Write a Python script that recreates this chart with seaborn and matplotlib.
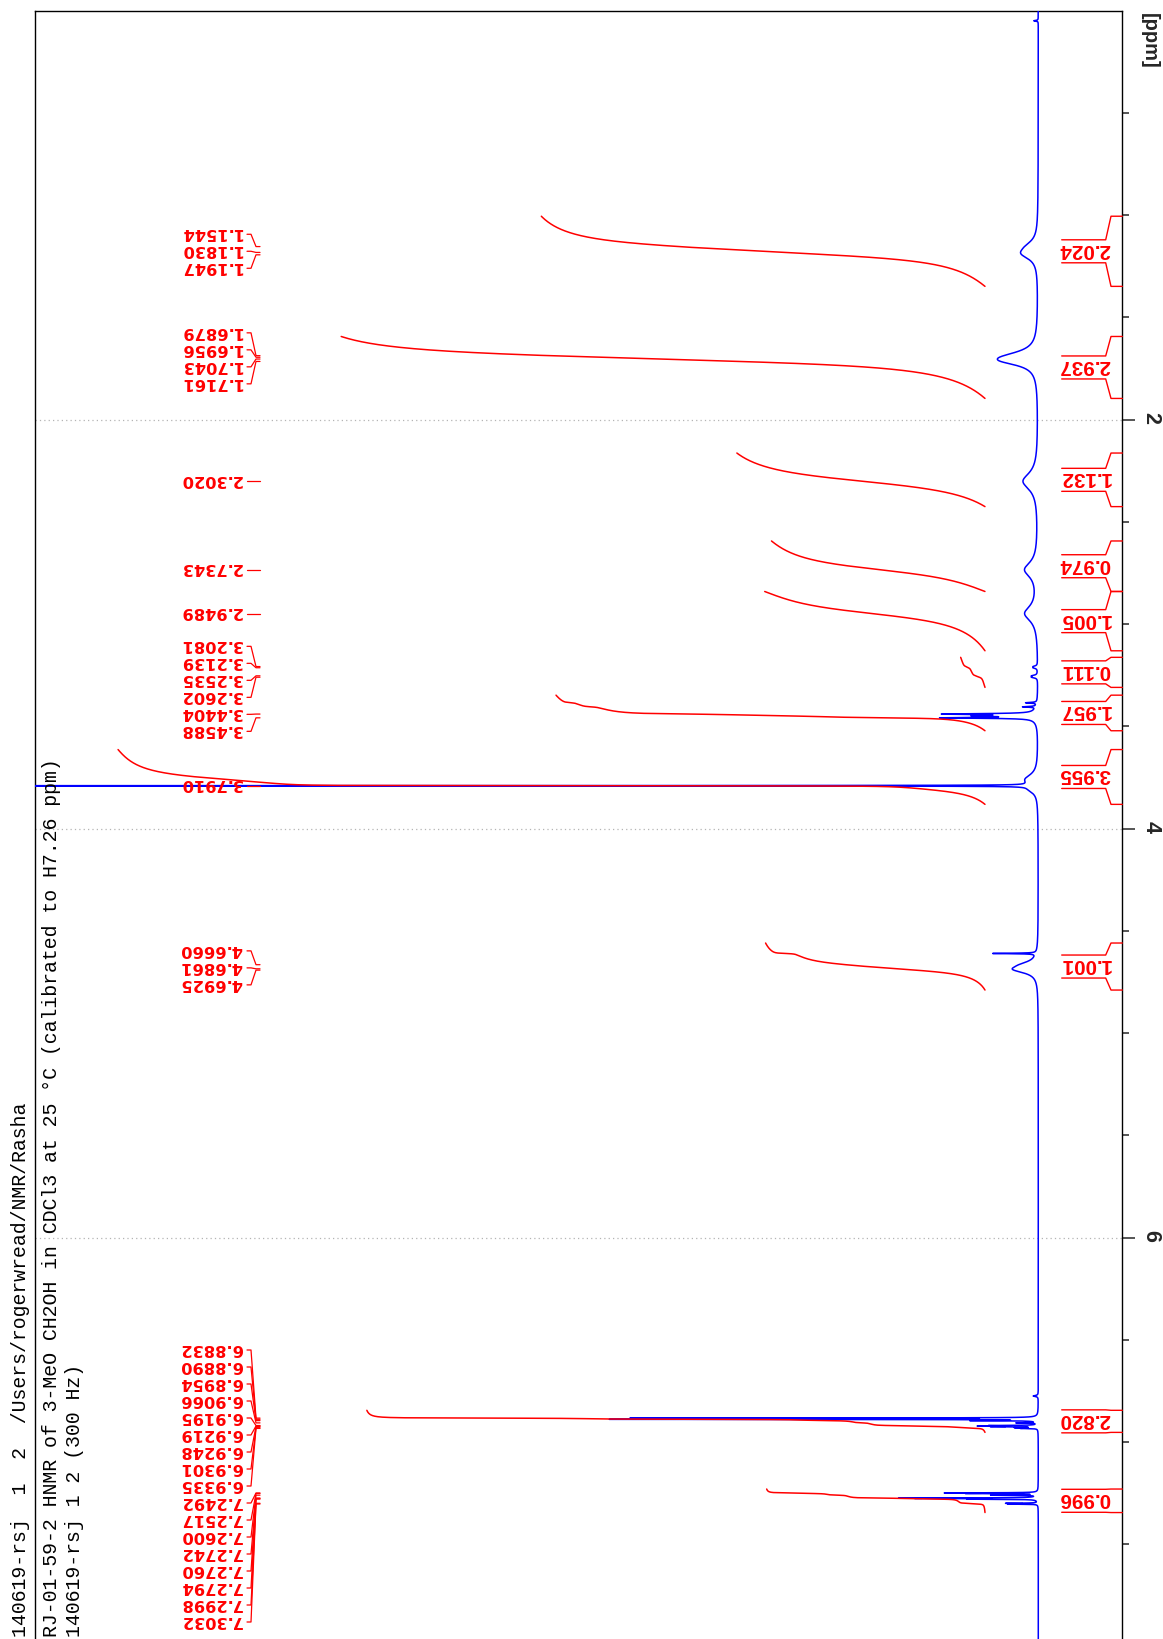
import numpy as np
import pandas as pd
import matplotlib
matplotlib.use("Agg")
import matplotlib.pyplot as plt
from matplotlib.ticker import FixedLocator
import seaborn as sns

# ---------------------------------------------------------------- data ----
# picked peaks: chemical shift (ppm), displayed height, half width (ppm)
peak_ppm = [1.1544, 1.1830, 1.1947,
            1.6879, 1.6956, 1.7043, 1.7161,
            2.3020, 2.7343, 2.9489,
            3.2081, 3.2139, 3.2535, 3.2602, 3.4404, 3.4588,
            3.7910,
            4.6660, 4.6861, 4.6925,
            6.8832, 6.8890, 6.8954, 6.9066, 6.9195, 6.9219, 6.9248, 6.9301, 6.9335,
            7.2492, 7.2517, 7.2600, 7.2742, 7.2760, 7.2794, 7.2998, 7.3032]
peak_height = [0.75, 0.70, 0.70,
               1.00, 1.00, 1.10, 1.50,
               1.50, 1.30, 1.30,
               0.35, 0.35, 0.50, 0.50, 8.50, 8.80,
               210.0,
               1.00, 1.20, 1.00,
               40.0, 42.0, 6.0, 2.0, 4.0, 5.0, 4.0, 2.0, 1.5,
               8.5, 6.0, 4.5, 11.5, 9.0, 6.0, 3.0, 2.8]
peak_hwhm = [0.035, 0.030, 0.030,
             0.035, 0.030, 0.030, 0.025,
             0.050, 0.045, 0.045,
             0.004, 0.004, 0.004, 0.004, 0.0025, 0.0025,
             0.0005,
             0.020, 0.020, 0.020,
             0.0008, 0.0008, 0.001, 0.001, 0.001, 0.001, 0.001, 0.001, 0.001,
             0.001, 0.001, 0.001, 0.001, 0.001, 0.001, 0.001, 0.001]

# lines present in the spectrum but not picked
extra_ppm = [0.05, 3.385, 3.405, 3.449, 3.450, 3.760, 3.810, 4.611, 6.775]
extra_height = [0.45, 1.1, 1.3, 5.0, 0.5, 1.2, 0.6, 4.3, 0.5]
extra_hwhm = [0.002, 0.002, 0.002, 0.003, 0.030, 0.030, 0.020, 0.0015, 0.003]

# integral regions (ppm) and normalised integral values
int_lo = [1.006, 1.594, 2.164, 2.594, 2.841, 3.163, 3.348, 3.614, 4.560, 6.845, 7.230]
int_hi = [1.349, 1.897, 2.426, 2.841, 3.131, 3.310, 3.522, 3.882, 4.790, 6.953, 7.345]
int_val = [2.024, 2.937, 1.132, 0.974, 1.005, 0.111, 1.957, 3.955, 1.001, 2.820, 0.996]

title_lines = ["140619-rsj  1  2  /Users/rogerwread/NMR/Rasha",
               "RJ-01-59-2 HNMR of 3-MeO CH2OH in CDCl3 at 25 \u00b0C (calibrated to H7.26 ppm)",
               "140619-rsj 1 2 (300 Hz)"]

major_ticks = [2, 4, 6]
minor_ticks = [0.5, 1.0, 1.5, 2.5, 3.0, 3.5, 4.5, 5.0, 5.5, 6.5, 7.0, 7.5]

# -------------------------------------------------------------- layout ----
sns.set_style("white")
plt.rcParams["font.family"] = ["DejaVu Sans"]

W, H = 1163, 1639
AX_L, AX_R, AX_T = 34.5, 1122.3, 10.5        # frame in pixels
PX_PER_PPM = 204.5
BASE_PX = 1038.3                              # spectrum baseline
UNIT = 10.0                                   # pixels per intensity unit
INT_OFF, INT_SCALE = 5.33, 21.92              # integral trace offset / scale

PPM_TOP = 0.0
PPM_BOT = (H - AX_T) / PX_PER_PPM
X_LEFT = (BASE_PX - AX_L) / UNIT
X_RIGHT = -(AX_R - BASE_PX) / UNIT

RED = "#ff0000"
BLUE = "#0000ff"
SANS = ["Liberation Sans", "DejaVu Sans"]

fig = plt.figure(figsize=(W / 100, H / 100), dpi=100)
ax = fig.add_axes([AX_L / W, 0.0, (AX_R - AX_L) / W, (H - AX_T) / H])


def xf(px):
    """pixel column -> axes fraction"""
    return (px - AX_L) / (AX_R - AX_L)


tr = ax.get_yaxis_transform()

# ------------------------------------------------------------ spectrum ----
ppm = np.arange(-0.05, 8.05, 0.0001)
pos = np.array(peak_ppm + extra_ppm)
hgt = np.array(peak_height + extra_height)
wid = np.array(peak_hwhm + extra_hwhm)
spec = np.zeros_like(ppm)
for p0, h0, w0 in zip(pos, hgt, wid):
    spec += h0 * w0 ** 2 / ((ppm - p0) ** 2 + w0 ** 2)

df = pd.DataFrame({"ppm": ppm, "intensity": spec})
sns.lineplot(data=df, x="intensity", y="ppm", sort=False, estimator=None,
             orient="y", color=BLUE, linewidth=1.1, ax=ax, zorder=3)

# ----------------------------------------------------------- integrals ----
for lo, hi, val in zip(int_lo, int_hi, int_val):
    m = (ppm >= lo) & (ppm <= hi)
    p_seg = ppm[m][::-1]
    c = np.cumsum(spec[m][::-1])
    c = c / c[-1]
    seg = pd.DataFrame({"ppm": p_seg, "area": INT_OFF + val * INT_SCALE * c})
    sns.lineplot(data=seg, x="area", y="ppm", sort=False, estimator=None,
                 orient="y", color=RED, linewidth=1.1, ax=ax, zorder=4)

    # bracket and value on the right-hand side
    mid = 0.5 * (lo + hi)
    box = 11.5 / PX_PER_PPM
    for edge, yb in ((lo, mid - box), (hi, mid + box)):
        ax.plot([xf(AX_R), xf(1111.0), xf(1105.7), xf(1061.7)],
                [edge, edge, yb, yb], transform=tr, color=RED, lw=1.0,
                clip_on=False, zorder=5)
    ax.text(xf(1110.5), mid - 2.0 / PX_PER_PPM, f"{val:.3f}", transform=tr,
            rotation=180, ha="right", va="center", color=RED,
            fontweight="bold", family=SANS, fontsize=14.8, zorder=6)

# --------------------------------------------------------- peak labels ----
# neighbouring peaks closer than one label pitch form a group; each group is
# centred on its peaks, later groups are pushed down if they would collide,
# and finally the stack is kept inside the frame by pushing labels back up
gap = 17.0 / PX_PER_PPM
groups = []
for p in sorted(peak_ppm):
    if groups and p - groups[-1][-1] < gap:
        groups[-1].append(p)
    else:
        groups.append([p])

lab_ppm, lab_y = [], []
last = -np.inf
for grp in groups:
    n = len(grp)
    centre = np.mean(grp)
    ys = np.array([centre + (k - (n - 1) / 2) * gap for k in range(n)])
    if ys[0] < last + gap:
        ys += last + gap - ys[0]
    last = ys[-1]
    lab_ppm.extend(grp)
    lab_y.extend(ys)

lab_y[-1] = min(lab_y[-1], PPM_BOT - gap)
for i in range(len(lab_y) - 2, -1, -1):
    lab_y[i] = min(lab_y[i], lab_y[i + 1] - gap)

for p, y in zip(lab_ppm, lab_y):
    ax.plot([xf(247), xf(251), xf(256), xf(260)], [y, y, p, p],
            transform=tr, color=RED, lw=0.9, clip_on=False, zorder=5)
    ax.text(xf(242), y - 1.8 / PX_PER_PPM, f"{p:.4f}", transform=tr,
            rotation=180, ha="right", va="center", color=RED,
            fontweight="bold", family=["DejaVu Sans"], fontsize=11.7,
            zorder=6)

# ---------------------------------------------------------------- axes ----
ax.set_xlim(X_LEFT, X_RIGHT)
ax.set_ylim(PPM_BOT, PPM_TOP)
ax.set_xlabel("")
ax.set_ylabel("")
ax.set_xticks([])

for v in major_ticks:
    ax.axhline(v, color="#b4b4b4", lw=0.9, ls=(0, (1, 2.5)), zorder=1)

ax.yaxis.tick_right()
ax.yaxis.set_major_locator(FixedLocator(major_ticks))
ax.yaxis.set_minor_locator(FixedLocator(minor_ticks))
ax.tick_params(axis="y", which="major", right=True, left=False,
               length=9.4, width=1.4, color="#555555", pad=3.5,
               labelsize=15, labelrotation=-90)
ax.tick_params(axis="y", which="minor", right=True, left=False,
               length=5.0, width=1.4, color="#555555")
ax.set_yticks(major_ticks)
ax.set_yticklabels([str(v) for v in major_ticks])
for lbl in ax.get_yticklabels():
    lbl.set_fontweight("bold")
    lbl.set_family(SANS)
    lbl.set_fontsize(15.5)

for side in ("left", "right", "top"):
    ax.spines[side].set_color("black")
    ax.spines[side].set_linewidth(1.0)
ax.spines["bottom"].set_visible(False)

fig.text(1149 / W, 1 - 41 / H, "[ppm]", rotation=-90, ha="center", va="center",
         fontweight="bold", fontsize=14.5, family=SANS)

# ---------------------------------------------------------- title text ----
for xpx, line in zip([21, 52, 75], title_lines):
    fig.text(xpx / W, 2 / H, line, rotation=90, ha="center", va="bottom",
             family=["Liberation Mono", "DejaVu Sans Mono"], fontsize=14.28,
             color="black")

fig.savefig("out.png", dpi=100)
